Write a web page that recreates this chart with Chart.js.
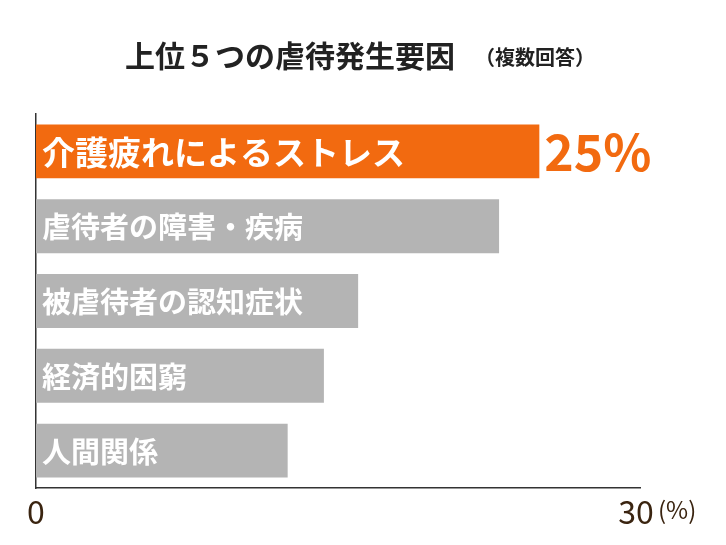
<!DOCTYPE html><html><head><meta charset="utf-8">
<script src="https://cdn.jsdelivr.net/npm/chart.js@4/dist/chart.umd.min.js"></script>
<style>html,body{margin:0;background:#fff}#w{width:726px;height:545px}</style></head><body><div id="w"><canvas id="c"></canvas></div>
<script>
const categories=["介護疲れによるストレス","虐待者の障害・疾病","被虐待者の認知症状","経済的困窮","人間関係"];
const values=[25,23,16,14.3,12.5];
const tickLabels=[0,30];
const F='"Noto Sans CJK JP","Noto Sans",sans-serif';
const txt={id:'txt',afterDatasetsDraw(ch){
 const ctx=ch.ctx,m=ch.getDatasetMeta(0),x=ch.scales.x;
 ctx.save();ctx.textBaseline='middle';
 m.data.forEach((b,i)=>{ctx.fillStyle='#fff';ctx.textAlign='left';
  ctx.font=(i==0?'bold 33px ':'bold 29px ')+F;ctx.fillText(categories[i],x.getPixelForValue(0)+6,b.y+1);});
 const b0=m.data[0];ctx.fillStyle='#f26a10';ctx.font='bold 50px '+F;ctx.fillText(values[0]+'%',b0.x+5,b0.y+1);
 ctx.textAlign='left';ctx.fillStyle='#222';ctx.font='bold 30px '+F;
 ctx.fillText('上位５つの虐待発生要因',125,56);
 ctx.font='bold 20px '+F;ctx.fillText('（複数回答）',475,57);
 ctx.fillStyle='#3a2410';ctx.font='32px '+F;ctx.textAlign='center';
 const y=512;ctx.fillText(String(tickLabels[0]),x.getPixelForValue(tickLabels[0]),y);
 ctx.fillText(String(tickLabels[1]),x.getPixelForValue(tickLabels[1])-4,y);
 ctx.font='24px '+F;ctx.textAlign='left';ctx.fillText('(%)',x.getPixelForValue(tickLabels[1])+18,y-2);
 ctx.restore();}};
new Chart(document.getElementById('c'),{type:'bar',
 data:{labels:categories,datasets:[{data:values,backgroundColor:values.map((v,i)=>i==0?'#f26a10':'#b4b4b4'),categoryPercentage:0.72,barPercentage:1}]},
 options:{indexAxis:'y',responsive:true,maintainAspectRatio:false,animation:false,
  layout:{padding:{left:28,right:86,top:114,bottom:49}},
  plugins:{legend:{display:false},tooltip:{enabled:false}},
  scales:{x:{min:0,max:30,ticks:{display:false},grid:{display:false},border:{color:'#333',width:1.5}},
   y:{ticks:{display:false},grid:{display:false},border:{color:'#333',width:1.5}}}},
 plugins:[txt]});
</script></body></html>
